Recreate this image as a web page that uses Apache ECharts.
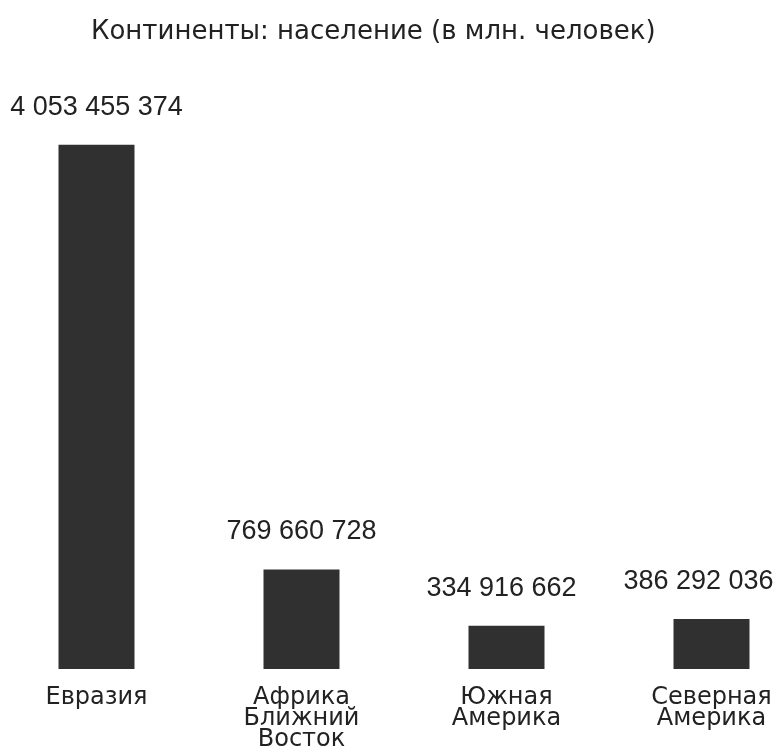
<!DOCTYPE html>
<html>
<head>
<meta charset="utf-8">
<script src="https://cdn.jsdelivr.net/npm/echarts@6/dist/echarts.min.js"></script>
<style>html,body{margin:0;padding:0;background:#fff}#c{width:781px;height:755px}</style>
</head>
<body>
<div id="c"></div>
<script>
const titleText = 'Континенты: население (в млн. человек)';
const categories = ['Евразия', 'Африка\nБлижний\nВосток', 'Южная\nАмерика', 'Северная\nАмерика'];
const population = [4053455374, 769660728, 334916662, 386292036];
const labelShiftX = [0, 0, -5, -13];

function fmt(v) {
  return String(v).replace(/\B(?=(\d{3})+(?!\d))/g, ' ');
}

const seriesData = population.map((v, i) => ({
  value: v,
  label: { offset: [labelShiftX[i], 0] }
}));

const chart = echarts.init(document.getElementById('c'));
chart.setOption({
  backgroundColor: '#ffffff',
  animation: false,
  title: {
    text: titleText,
    left: 86,
    top: 14,
    textStyle: { fontFamily: 'DejaVu Sans', fontWeight: 'normal', fontSize: 26, color: '#222' }
  },
  grid: { left: -6, width: 820, top: 87, bottom: 86, containLabel: false, outerBoundsMode: 'none' },
  xAxis: {
    type: 'category',
    data: categories,
    axisLine: { show: false },
    axisTick: { show: false },
    axisLabel: {
      interval: 0,
      margin: 18,
      fontFamily: 'DejaVu Sans',
      fontSize: 24,
      lineHeight: 21,
      color: '#222'
    }
  },
  yAxis: {
    type: 'value',
    min: 0,
    max: 4500000000,
    show: false,
    splitLine: { show: false }
  },
  series: [{
    type: 'bar',
    data: seriesData,
    barWidth: 76,
    itemStyle: { color: '#303030' },
    label: {
      show: true,
      position: 'top',
      distance: 24,
      formatter: p => fmt(p.value),
      fontFamily: 'Liberation Sans',
      fontSize: 27,
      color: '#222'
    }
  }]
});
</script>
</body>
</html>
